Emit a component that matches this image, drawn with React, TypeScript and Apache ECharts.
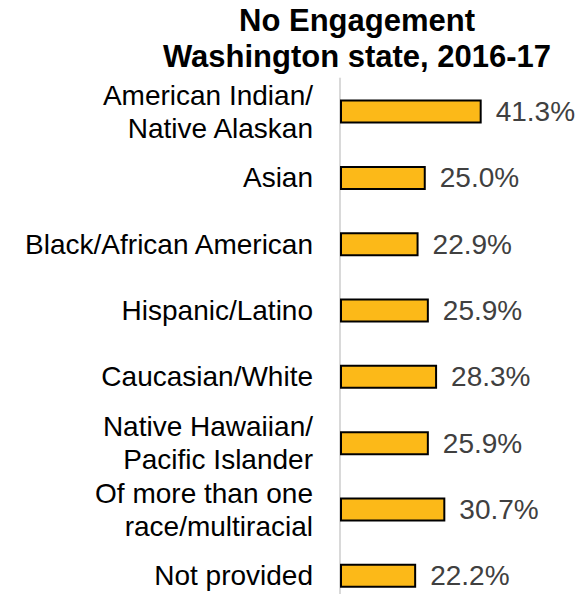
import React, { useEffect, useRef } from "react";
import * as echarts from "echarts";

const titleLines = ["No Engagement", "Washington state, 2016-17"];
const categories = [
  "American Indian/\nNative Alaskan",
  "Asian",
  "Black/African American",
  "Hispanic/Latino",
  "Caucasian/White",
  "Native Hawaiian/\nPacific Islander",
  "Of more than one\nrace/multiracial",
  "Not provided",
];
const values = [41.3, 25.0, 22.9, 25.9, 28.3, 25.9, 30.7, 22.2];

const FONT = "'Liberation Sans', Arial, Helvetica, sans-serif";

export default function App() {
  const ref = useRef<HTMLDivElement>(null);
  useEffect(() => {
    if (!ref.current) return;
    const chart = echarts.init(ref.current, undefined, { renderer: "svg" });
    chart.setOption({
      animation: false,
      backgroundColor: "#ffffff",
      graphic: [
        {
          type: "text",
          x: 357,
          y: 2,
          style: {
            text: titleLines.join("\n"),
            font: `bold 31px ${FONT}`,
            fill: "#000000",
            align: "center",
            lineHeight: 36,
          },
        },
      ],
      grid: { left: 340, right: 0, top: 78.4, bottom: 0, containLabel: false },
      xAxis: {
        type: "value",
        min: 0,
        max: 72,
        show: false,
        splitLine: { show: false },
      },
      yAxis: {
        type: "category",
        inverse: true,
        data: categories,
        axisLine: { show: true, lineStyle: { color: "#d9d9d9", width: 2 } },
        axisTick: { show: false },
        axisLabel: {
          color: "#000000",
          fontSize: 28,
          fontFamily: FONT,
          margin: 27,
          lineHeight: 33,
          align: "right",
        },
      },
      series: [
        {
          type: "bar",
          data: values,
          barWidth: 24,
          itemStyle: { color: "#FCB918", borderColor: "#000000", borderWidth: 2 },
          label: {
            show: true,
            position: "right",
            distance: 14,
            color: "#404040",
            fontSize: 28,
            fontFamily: FONT,
            formatter: (p: any) => `${Number(p.value).toFixed(1)}%`,
          },
        },
      ],
    });
    return () => chart.dispose();
  }, []);
  return (
    <div
      style={{
        position: "absolute",
        left: 0,
        top: 0,
        width: 587,
        height: 594,
        overflow: "hidden",
      }}
    >
      <div ref={ref} style={{ width: 587, height: 609 }} />
    </div>
  );
}
